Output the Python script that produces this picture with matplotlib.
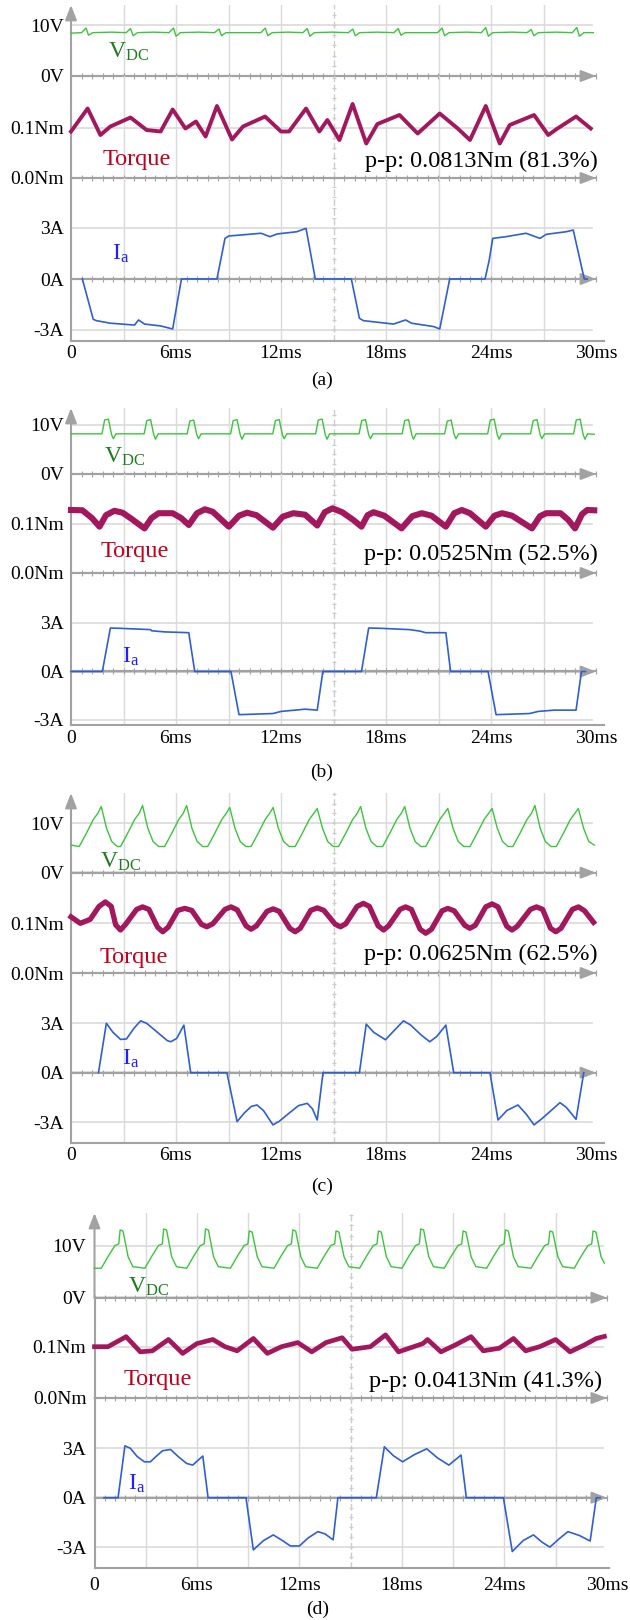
import matplotlib.pyplot as plt
from matplotlib.ticker import MultipleLocator

plt.rcParams['font.family'] = ['Liberation Serif', 'DejaVu Serif']
plt.rcParams['mathtext.fontset'] = 'custom'
plt.rcParams['mathtext.rm'] = 'Liberation Serif'
plt.rcParams['mathtext.it'] = 'Liberation Serif:italic'

# ---------------- data (time in ms) ----------------
time_ticks = [0, 6, 12, 18, 24, 30]
time_labels = ['0', '6ms', '12ms', '18ms', '24ms', '30ms']
vdc_ticks, vdc_labels = [0, 10], ['0V', '10V']
trq_ticks, trq_labels = [0.0, 0.1], ['0.0Nm', '0.1Nm']
ia_ticks, ia_labels = [-3, 0, 3], ['-3A', '0A', '3A']
captions = ['(a)', '(b)', '(c)', '(d)']
pp_texts = ['p-p: 0.0813Nm (81.3%)', 'p-p: 0.0525Nm (52.5%)',
            'p-p: 0.0625Nm (62.5%)', 'p-p: 0.0413Nm (41.3%)']

# (a)
vdc_a_t = [0.0,
           0.6, 0.86, 1.0, 1.25, 2.3,
           3.15, 3.4, 3.55, 3.8, 4.7,
           5.6, 5.86, 6.0, 6.25, 7.3,
           8.2, 8.46, 8.6, 8.85, 9.9,
           10.85, 11.1, 11.25, 11.5, 12.4,
           13.25, 13.5, 13.65, 13.9, 14.9,
           15.85, 16.1, 16.25, 16.5, 17.5,
           18.45, 18.7, 18.85, 19.1, 20.0,
           20.95, 21.2, 21.35, 21.6, 22.6,
           23.45, 23.7, 23.85, 24.1, 25.2,
           26.05, 26.3, 26.45, 26.7, 27.7,
           28.65, 28.9, 29.05, 29.3, 29.85]
vdc_a_v = [8.4,
           8.5, 9.4, 8.0, 8.5, 8.6,
           8.5, 9.3, 7.9, 8.5, 8.6,
           8.5, 9.4, 7.8, 8.5, 8.6,
           8.5, 9.2, 7.9, 8.5, 8.5,
           8.5, 9.4, 7.9, 8.5, 8.6,
           8.5, 9.3, 7.8, 8.5, 8.6,
           8.5, 9.2, 7.9, 8.5, 8.6,
           8.5, 9.3, 8.0, 8.5, 8.5,
           8.5, 9.4, 7.9, 8.5, 8.6,
           8.5, 9.5, 7.8, 8.5, 8.6,
           8.5, 9.1, 7.9, 8.5, 8.6,
           8.5, 9.5, 7.8, 8.5, 8.5]
trq_a_t = [0, 0.95, 1.68, 2.25, 3.4, 4.32, 5.12, 5.81, 6.54, 7.14,
           7.69, 8.34, 9.2, 9.83, 11.09, 12.0, 12.46, 13.43, 14.19, 14.65,
           15.34, 16.09, 16.87, 17.51, 18.77, 19.81, 21.07, 22.1, 22.8, 23.7,
           24.5, 25.07, 26.46, 27.27, 27.8, 28.86, 29.7]
trq_a_v = [0.093, 0.139, 0.086, 0.103, 0.121, 0.096, 0.093, 0.137, 0.099, 0.113,
           0.083, 0.144, 0.077, 0.103, 0.123, 0.093, 0.093, 0.139, 0.093, 0.116,
           0.076, 0.148, 0.069, 0.108, 0.126, 0.089, 0.129, 0.099, 0.076, 0.144,
           0.069, 0.106, 0.126, 0.086, 0.099, 0.123, 0.099]
ia_a_t = [0.65, 1.27, 1.45, 2.25, 3.63, 3.86, 4.2, 5.12, 5.81, 6.31,
          8.34, 8.8, 9.02, 10.86, 11.37, 11.78, 12.9, 13.43, 13.96, 16.02,
          16.48, 16.71, 18.43, 19.12, 19.46, 20.73, 21.07, 21.64, 23.66, 23.9,
          24.1, 24.86, 26.0, 26.8, 27.16, 28.3, 28.7, 29.33, 29.5]
ia_a_v = [0, -2.37, -2.45, -2.6, -2.71, -2.41, -2.65, -2.76, -2.94, 0,
          0, 2.39, 2.53, 2.69, 2.49, 2.65, 2.78, 2.98, 0, 0,
          -2.31, -2.45, -2.65, -2.41, -2.6, -2.8, -2.94, 0, 0, 1.12,
          2.39, 2.49, 2.69, 2.39, 2.63, 2.78, 2.88, 0, 0]

# (b)
vdc_b_t = [0.0,
           1.77, 1.92, 2.14, 2.32, 2.42, 2.57,
           4.18, 4.33, 4.55, 4.73, 4.83, 4.98,
           6.64, 6.79, 7.01, 7.19, 7.29, 7.44,
           9.12, 9.27, 9.49, 9.67, 9.77, 9.92,
           11.53, 11.68, 11.90, 12.08, 12.18, 12.33,
           13.98, 14.13, 14.35, 14.53, 14.63, 14.78,
           16.46, 16.61, 16.83, 17.01, 17.11, 17.26,
           18.92, 19.07, 19.29, 19.47, 19.57, 19.72,
           21.35, 21.50, 21.72, 21.90, 22.00, 22.15,
           23.81, 23.96, 24.18, 24.36, 24.46, 24.61,
           26.26, 26.41, 26.63, 26.81, 26.91, 27.06,
           28.72, 28.87, 29.09, 29.27, 29.37, 29.52,
           29.9]
vdc_b_v = [8.2,
           8.2, 11.0, 11.2, 8.0, 7.2, 8.2,
           8.2, 10.9, 11.1, 8.0, 7.1, 8.2,
           8.2, 10.8, 11.0, 8.0, 7.2, 8.2,
           8.2, 10.9, 11.1, 8.0, 7.1, 8.2,
           8.2, 10.9, 11.1, 8.0, 7.2, 8.2,
           8.2, 11.0, 11.2, 8.0, 7.1, 8.2,
           8.2, 10.9, 11.1, 8.0, 7.2, 8.2,
           8.2, 10.9, 11.1, 8.0, 7.1, 8.2,
           8.2, 10.8, 11.0, 8.0, 7.2, 8.2,
           8.2, 11.0, 11.2, 8.0, 7.1, 8.2,
           8.2, 10.9, 11.1, 8.0, 7.2, 8.2,
           8.2, 11.0, 11.2, 8.0, 7.1, 8.2,
           8.1]
trq_b_t = [0, 0.65, 1.2, 1.63, 2.0, 2.48, 2.95, 3.4, 4.2, 4.6,
           5.0, 5.81, 6.3, 6.73, 7.2, 7.65, 8.1, 9.02, 9.6, 10.06,
           10.6, 11.54, 12.1, 12.7, 13.38, 14.07, 14.5, 14.94, 15.5, 16.14,
           16.6, 16.95, 17.29, 17.9, 18.89, 19.5, 20.04, 20.6, 21.42, 21.9,
           22.33, 22.8, 23.7, 24.2, 24.63, 25.2, 26.34, 26.8, 27.16, 27.97,
           28.4, 28.8, 29.2, 29.5, 29.9]
trq_b_v = [0.1286, 0.128, 0.112, 0.0946, 0.118, 0.127, 0.123, 0.112, 0.091, 0.112,
           0.122, 0.122, 0.112, 0.098, 0.122, 0.130, 0.125, 0.0946, 0.117, 0.123,
           0.118, 0.0925, 0.115, 0.122, 0.119, 0.097, 0.124, 0.132, 0.124, 0.108,
           0.0946, 0.118, 0.124, 0.117, 0.091, 0.116, 0.122, 0.117, 0.0946, 0.122,
           0.1286, 0.122, 0.0946, 0.117, 0.122, 0.117, 0.091, 0.116, 0.122, 0.122,
           0.109, 0.091, 0.120, 0.1286, 0.128]
ia_b_t = [0, 1.79, 2.25, 2.83, 4.55, 4.6, 5.35, 6.73, 7.07, 9.14,
          9.6, 11.54, 12.0, 13.38, 14.07, 14.39, 16.6, 17.01, 17.74, 19.35,
          19.93, 20.27, 21.42, 21.69, 23.83, 24.29, 26.2, 26.7, 27.6, 28.86,
          29.17, 29.4]
ia_b_v = [0, 0, 2.69, 2.67, 2.59, 2.52, 2.45, 2.4, 0, 0,
          -2.67, -2.6, -2.47, -2.33, -2.39, 0, 0, 2.69, 2.67, 2.59,
          2.5, 2.4, 2.4, 0, 0, -2.67, -2.6, -2.47, -2.39, -2.39,
          0, 0]

# (c)
vdc_c_t = [0.0,
           0.47, 0.88, 1.28, 1.53, 1.73, 2.03, 2.33, 2.65,
           2.83, 3.24, 3.64, 3.89, 4.09, 4.39, 4.69, 5.01,
           5.35, 5.76, 6.16, 6.41, 6.61, 6.91, 7.21, 7.53,
           7.81, 8.22, 8.62, 8.87, 9.07, 9.37, 9.67, 9.99,
           10.29, 10.70, 11.10, 11.35, 11.55, 11.85, 12.15, 12.47,
           12.81, 13.22, 13.62, 13.87, 14.07, 14.37, 14.67, 14.99,
           15.29, 15.70, 16.10, 16.35, 16.55, 16.85, 17.15, 17.47,
           17.81, 18.22, 18.62, 18.87, 19.07, 19.37, 19.67, 19.99,
           20.27, 20.68, 21.08, 21.33, 21.53, 21.83, 22.13, 22.45,
           22.80, 23.21, 23.61, 23.86, 24.06, 24.36, 24.66, 24.98,
           25.25, 25.66, 26.06, 26.31, 26.51, 26.81, 27.11, 27.43,
           27.73, 28.14, 28.54, 28.79, 28.99, 29.29, 29.59, 29.9]
vdc_c_v = [5.6,
           5.3, 8.0, 10.8, 12.0, 13.4, 9.0, 6.3, 5.3,
           5.3, 8.0, 10.8, 12.0, 13.6, 9.0, 6.3, 5.3,
           5.3, 8.0, 10.8, 12.0, 13.6, 9.0, 6.3, 5.3,
           5.3, 8.0, 10.8, 12.0, 13.2, 9.0, 6.3, 5.3,
           5.3, 8.0, 10.8, 12.0, 13.2, 9.0, 6.3, 5.3,
           5.3, 8.0, 10.8, 12.0, 13.0, 9.0, 6.3, 5.3,
           5.3, 8.0, 10.8, 12.0, 13.4, 9.0, 6.3, 5.3,
           5.3, 8.0, 10.8, 12.0, 13.4, 9.0, 6.3, 5.3,
           5.3, 8.0, 10.8, 12.0, 13.0, 9.0, 6.3, 5.3,
           5.3, 8.0, 10.8, 12.0, 13.0, 9.0, 6.3, 5.3,
           5.3, 8.0, 10.8, 12.0, 13.6, 9.0, 6.3, 5.3,
           5.3, 8.0, 10.8, 12.0, 13.0, 9.0, 6.3, 5.6]
trq_c_t = [0, 0.53, 1.1, 1.6, 1.96, 2.3, 2.55, 2.83, 3.1, 3.75,
           4.09, 4.45, 4.95, 5.24, 5.55, 6.1, 6.5, 6.9, 7.45, 7.76,
           8.1, 8.8, 9.14, 9.5, 10.0, 10.29, 10.6, 11.2, 11.55, 11.9,
           12.5, 12.81, 13.1, 13.7, 14.07, 14.45, 15.1, 15.4, 15.7, 16.35,
           16.71, 17.05, 17.55, 17.86, 18.15, 18.8, 19.12, 19.45, 19.95, 20.27,
           20.6, 21.2, 21.53, 21.9, 22.5, 22.79, 23.1, 23.7, 24.06, 24.4,
           24.9, 25.2, 25.5, 26.25, 26.6, 26.95, 27.4, 27.7, 28.0, 28.65,
           29.0, 29.35, 29.86]
trq_c_v = [0.113, 0.100, 0.108, 0.134, 0.143, 0.134, 0.097, 0.0865, 0.097, 0.128,
           0.133, 0.128, 0.092, 0.083, 0.092, 0.126, 0.130, 0.126, 0.098, 0.093,
           0.099, 0.128, 0.133, 0.127, 0.095, 0.088, 0.095, 0.124, 0.129, 0.124,
           0.090, 0.083, 0.090, 0.126, 0.131, 0.126, 0.098, 0.093, 0.099, 0.134,
           0.140, 0.134, 0.095, 0.0865, 0.095, 0.128, 0.133, 0.128, 0.088, 0.080,
           0.088, 0.125, 0.130, 0.125, 0.096, 0.090, 0.096, 0.133, 0.139, 0.133,
           0.094, 0.0865, 0.094, 0.128, 0.133, 0.128, 0.090, 0.083, 0.090, 0.128,
           0.133, 0.125, 0.102]
ia_c_t = [1.57, 2.02, 2.4, 2.83, 3.17, 3.6, 3.98, 4.32, 5.0, 5.5,
          5.7, 6.04, 6.45, 6.84, 8.91, 9.49, 9.9, 10.3, 10.63, 11.0,
          11.54, 11.9, 12.46, 13.0, 13.5, 13.8, 14.07, 14.4, 16.48, 16.87,
          17.3, 17.97, 18.5, 19.0, 19.4, 20.0, 20.5, 20.9, 21.42, 21.87,
          23.94, 24.4, 24.9, 25.54, 26.0, 26.46, 26.9, 27.37, 27.94, 28.3,
          28.86, 29.3]
ia_c_v = [0, 3.0, 2.45, 2.02, 2.05, 2.7, 3.15, 3.0, 2.4, 1.95,
          1.88, 2.08, 2.89, 0, 0, -2.97, -2.45, -2.05, -1.96, -2.3,
          -3.17, -2.95, -2.46, -2.0, -1.86, -2.2, -2.87, 0, 0, 2.95,
          2.45, 2.0, 2.6, 3.15, 2.9, 2.3, 1.88, 2.2, 2.89, 0,
          0, -2.87, -2.3, -1.96, -2.5, -3.17, -2.8, -2.36, -1.82, -2.1,
          -2.83, 0]

# (d)
vdc_d_t = [0.0,
           0.4, 0.8, 1.2, 1.42, 1.5, 1.67, 1.97, 2.25,
           2.95, 3.35, 3.75, 3.97, 4.05, 4.22, 4.52, 4.8,
           5.4, 5.8, 6.2, 6.42, 6.5, 6.67, 6.97, 7.25,
           7.96, 8.36, 8.76, 8.98, 9.06, 9.23, 9.53, 9.81,
           10.51, 10.91, 11.31, 11.53, 11.61, 11.78, 12.08, 12.36,
           13.04, 13.44, 13.84, 14.06, 14.14, 14.31, 14.61, 14.89,
           15.52, 15.92, 16.32, 16.54, 16.62, 16.79, 17.09, 17.37,
           18.0, 18.4, 18.8, 19.02, 19.1, 19.27, 19.57, 19.85,
           20.48, 20.88, 21.28, 21.5, 21.58, 21.75, 22.05, 22.33,
           22.96, 23.36, 23.76, 23.98, 24.06, 24.23, 24.53, 24.81,
           25.56, 25.96, 26.36, 26.58, 26.66, 26.83, 27.13, 27.41,
           28.09, 28.49, 28.89, 29.11, 29.19, 29.36, 29.66, 29.85]
vdc_d_v = [5.7,
           5.7, 8.0, 10.1, 10.4, 13.1, 12.9, 7.9, 6.0,
           5.7, 8.0, 10.1, 10.4, 13.3, 13.1, 7.9, 6.0,
           5.7, 8.0, 10.1, 10.4, 13.3, 13.1, 7.9, 6.0,
           5.7, 8.0, 10.1, 10.4, 12.9, 12.7, 7.9, 6.0,
           5.7, 8.0, 10.1, 10.4, 13.1, 12.9, 7.9, 6.0,
           5.7, 8.0, 10.1, 10.4, 12.9, 12.7, 7.9, 6.0,
           5.7, 8.0, 10.1, 10.4, 12.9, 12.7, 7.9, 6.0,
           5.7, 8.0, 10.1, 10.4, 13.3, 13.1, 7.9, 6.0,
           5.7, 8.0, 10.1, 10.4, 12.9, 12.7, 7.9, 6.0,
           5.7, 8.0, 10.1, 10.4, 13.1, 12.9, 7.9, 6.0,
           5.7, 8.0, 10.1, 10.4, 12.9, 12.7, 7.9, 6.0,
           5.7, 8.0, 10.1, 10.4, 12.9, 12.7, 7.9, 6.7]
trq_d_t = [0, 0.79, 1.85, 2.68, 3.39, 4.33, 5.16, 5.99, 6.93, 7.64,
           8.35, 9.3, 10.12, 10.95, 11.9, 12.72, 13.55, 14.5, 15.08, 16.15,
           17.04, 17.8, 19.22, 19.5, 20.28, 21.1, 22.05, 22.76, 23.7, 24.53,
           25.24, 26.06, 27.0, 27.84, 28.66, 29.38, 29.85]
trq_d_v = [0.1, 0.1, 0.1195, 0.090, 0.092, 0.114, 0.087, 0.106, 0.114, 0.1,
           0.092, 0.116, 0.087, 0.1, 0.108, 0.090, 0.108, 0.1175, 0.095, 0.1,
           0.123, 0.090, 0.106, 0.114, 0.090, 0.103, 0.1195, 0.092, 0.097, 0.116,
           0.092, 0.1, 0.114, 0.090, 0.103, 0.116, 0.12]
ia_d_t = [0.55, 1.38, 1.78, 2.1, 2.5, 2.92, 3.27, 3.6, 3.98, 4.45,
          4.9, 5.39, 5.75, 6.34, 6.65, 8.87, 9.3, 9.9, 10.47, 11.0,
          11.47, 12.0, 12.5, 13.08, 13.5, 13.97, 14.25, 16.5, 16.97, 17.5,
          18.04, 18.7, 19.45, 20.1, 20.75, 21.46, 21.77, 23.94, 24.46, 25.1,
          25.7, 26.2, 26.66, 27.2, 27.72, 28.4, 29.02, 29.38, 29.6]
ia_d_v = [0, 0, 3.15, 3.0, 2.5, 2.18, 2.18, 2.5, 2.85, 2.93,
          2.5, 2.08, 1.98, 2.53, 0, 0, -3.17, -2.6, -2.26, -2.6,
          -2.93, -2.93, -2.45, -2.06, -2.2, -2.56, 0, 0, 3.09, 2.55,
          2.18, 2.6, 2.97, 2.4, 1.98, 2.59, 0, 0, -3.27, -2.6,
          -2.26, -2.7, -3.0, -2.5, -2.06, -2.3, -2.63, 0, 0]

# ---------------- layout (pixel positions in the 630x1620 picture) ----------------
W, H = 630, 1620
AXIS_C = '#a2a2a2'
GRID_C = '#dadada'
CENTER_C = '#cdcdcd'
VDC_C, VDC_TXT = '#3cc43c', '#1d7d1d'
TRQ_C, TRQ_TXT = '#a3175c', '#c0001c'
IA_C, IA_TXT = '#2f5fd4', '#1f1fff'
GRID_T = [3, 6, 9, 12, 18, 21, 24, 27]
ARROW = dict(arrowstyle='-|>,head_length=0.9,head_width=0.35', mutation_scale=10,
             color=AXIS_C, lw=1.5, shrinkA=0, shrinkB=0)

panels = [
    dict(x0=71, ppm=17.5, tmax=30.45, top=5, v10=25, v0=76, n01=128, n0=178,
         a3=228, a0=279, bot=341, xpad=1.0, ypad=3.4, trq_lw=2.8,
         vdc=(vdc_a_t, vdc_a_v), trq=(trq_a_t, trq_a_v), ia=(ia_a_t, ia_a_v),
         vdc_xy=(108, 58), trq_xy=(103, 165), pp_xy=(598, 166.5), ia_xy=(112, 260),
         cap_xy=(322, 380)),
    dict(x0=71, ppm=17.5, tmax=30.45, top=408, v10=425, v0=474, n01=524, n0=573,
         a3=623, a0=671.5, bot=724.5, xpad=2.0, ypad=3.4, trq_lw=4.4,
         vdc=(vdc_b_t, vdc_b_v), trq=(trq_b_t, trq_b_v), ia=(ia_b_t, ia_b_v),
         vdc_xy=(104, 463), trq_xy=(100.5, 557), pp_xy=(597.5, 560), ia_xy=(122.5, 663),
         cap_xy=(322, 772)),
    dict(x0=71, ppm=17.5, tmax=30.45, top=793, v10=823.3, v0=872.7, n01=923.3, n0=973,
         a3=1023.3, a0=1072.7, bot=1143, xpad=1.0, ypad=3.4, trq_lw=3.8,
         vdc=(vdc_c_t, vdc_c_v), trq=(trq_c_t, trq_c_v), ia=(ia_c_t, ia_c_v),
         vdc_xy=(99.5, 868), trq_xy=(99.5, 963), pp_xy=(597.5, 960), ia_xy=(121.5, 1065),
         cap_xy=(322, 1186)),
    dict(x0=94.5, ppm=17.08, tmax=30.1, top=1213, v10=1246, v0=1297.7, n01=1346.7, n0=1398,
         a3=1448.3, a0=1497.7, bot=1568, xpad=4.5, ypad=4.1, trq_lw=3.4,
         vdc=(vdc_d_t, vdc_d_v), trq=(trq_d_t, trq_d_v), ia=(ia_d_t, ia_d_v),
         vdc_xy=(127.5, 1292.5), trq_xy=(123.5, 1385), pp_xy=(602, 1386.5), ia_xy=(128.5, 1490),
         cap_xy=(318, 1609)),
]

fig = plt.figure(figsize=(W / 100, H / 100), dpi=100)


def fx(x):
    return x / W


def fy(y):
    return 1 - y / H


def make_axes(p, y_top, y_bot, ylim, yticks, ylabels, yminor, show_x=False):
    ax = fig.add_axes([fx(p['x0']), fy(y_bot), p['tmax'] * p['ppm'] / W, (y_bot - y_top) / H])
    ax.set_xlim(0, p['tmax'])
    ax.set_ylim(*ylim)
    ax.patch.set_visible(False)
    for s in ax.spines.values():
        s.set_color(AXIS_C)
        s.set_linewidth(1.5)
    ax.spines['bottom'].set_visible(show_x)
    ax.spines['bottom'].set_bounds(0, p['tmax'])
    ax.spines['top'].set_position(('data', 0))
    ax.spines['top'].set_bounds(0, 30)
    ax.spines['right'].set_position(('data', 15))
    ax.spines['right'].set(color=CENTER_C, linewidth=1.0, linestyle=(0, (4, 3)))

    ax.set_xticks(time_ticks)
    ax.set_xticklabels(time_labels)
    ax.xaxis.set_minor_locator(MultipleLocator(0.6))
    ax.tick_params(axis='x', which='both', bottom=False, top=True, labelbottom=show_x,
                   labeltop=False, direction='inout', length=4, width=0.8,
                   color=AXIS_C, labelsize=14, pad=p['xpad'])
    ax.set_yticks(yticks)
    ax.set_yticklabels(ylabels)
    ax.yaxis.set_minor_locator(MultipleLocator(yminor))
    ax.tick_params(axis='y', which='both', left=False, right=True, labelleft=True,
                   labelright=False, direction='inout', length=3.5, width=0.8,
                   color=CENTER_C, labelsize=14, pad=p['ypad'])
    for t in GRID_T:
        ax.axvline(t, color=GRID_C, lw=1.0, zorder=0)
    return ax


for i, p in enumerate(panels):
    xr = 29.75 / p['tmax']

    # V_DC trace
    vtop = (p['v0'] - p['top']) / (p['v0'] - p['v10']) * 10
    ax_v = make_axes(p, p['top'], p['v0'], (0, vtop), vdc_ticks, vdc_labels, 2)
    ax_v.spines['left'].set_visible(False)
    ax_v.annotate('', xy=(0, 1), xytext=(0, 0), xycoords='axes fraction', arrowprops=ARROW)
    ax_v.annotate('', xy=(30.0, 0), xytext=(0, 0), arrowprops=ARROW)
    ax_v.axhline(10, xmax=xr, color=GRID_C, lw=1.2, zorder=0)
    ax_v.plot(*p['vdc'], color=VDC_C, lw=1.0, zorder=5, clip_on=False)

    # torque trace
    ttop = (p['n0'] - p['v0']) / (p['n0'] - p['n01']) * 0.1
    ax_t = make_axes(p, p['v0'], p['n0'], (0, ttop), trq_ticks, trq_labels, 0.02)
    ax_t.annotate('', xy=(30.0, 0), xytext=(0, 0), arrowprops=ARROW)
    ax_t.axhline(0.1, xmax=xr, color=GRID_C, lw=1.2, zorder=0)
    ax_t.plot(*p['trq'], color=TRQ_C, lw=p['trq_lw'], zorder=5, clip_on=False,
              solid_joinstyle='round')

    # phase current trace
    s = (p['a0'] - p['a3']) / 3
    ax_i = make_axes(p, p['n0'], p['bot'], (-(p['bot'] - p['a0']) / s, (p['a0'] - p['n0']) / s),
                     ia_ticks, ia_labels, 0.6, show_x=True)
    ax_i.annotate('', xy=(30.0, 0), xytext=(0, 0), arrowprops=ARROW)
    for lvl in (3, -3):
        ax_i.axhline(lvl, xmax=xr, color=GRID_C, lw=1.2, zorder=0)
    ax_i.plot(*p['ia'], color=IA_C, lw=1.2, zorder=5, clip_on=False)

    # labels
    fig.text(fx(p['vdc_xy'][0]), fy(p['vdc_xy'][1]), r'$\mathrm{V_{DC}}$',
             color=VDC_TXT, fontsize=17, va='baseline')
    fig.text(fx(p['trq_xy'][0]), fy(p['trq_xy'][1]), 'Torque',
             color=TRQ_TXT, fontsize=17.5, va='baseline')
    fig.text(fx(p['pp_xy'][0]), fy(p['pp_xy'][1]), pp_texts[i],
             color='black', fontsize=17.5, va='baseline', ha='right')
    fig.text(fx(p['ia_xy'][0]), fy(p['ia_xy'][1]), r'$\mathrm{I_{a}}$',
             color=IA_TXT, fontsize=17, va='baseline')
    fig.text(fx(p['cap_xy'][0]), fy(p['cap_xy'][1]), captions[i],
             fontsize=14, ha='center', va='center')

fig.savefig('out.png', dpi=100)
